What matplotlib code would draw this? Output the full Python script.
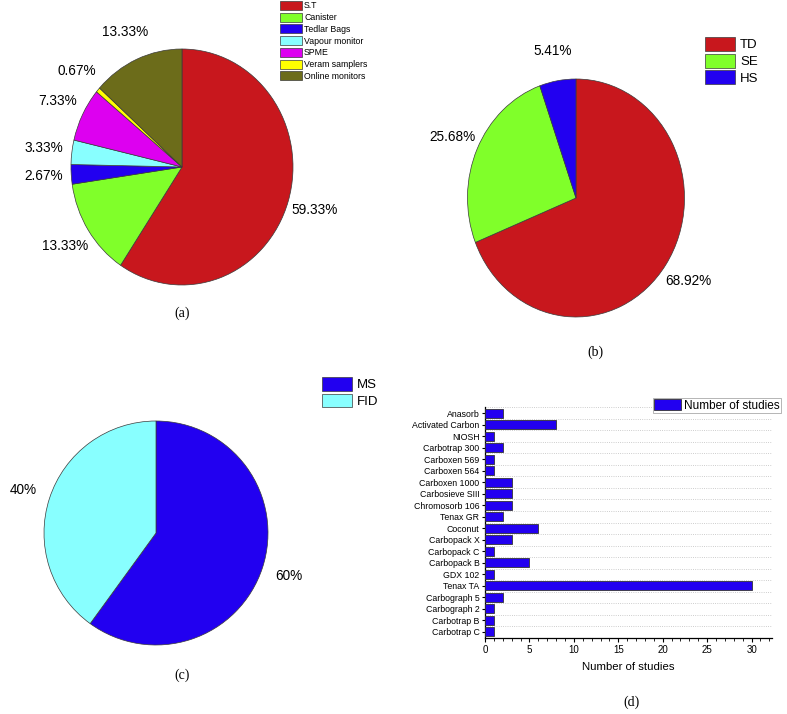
import matplotlib
matplotlib.use("Agg")
import matplotlib.pyplot as plt
from matplotlib.ticker import MultipleLocator

plt.rcParams['font.family'] = ['Liberation Sans', 'DejaVu Sans']

# (a) sampling methods
sampling_labels = ['S.T', 'Canister', 'Tedlar Bags', 'Vapour monitor', 'SPME',
                   'Veram samplers', 'Online monitors']
sampling_pct = [59.33, 13.33, 2.67, 3.33, 7.33, 0.67, 13.33]
sampling_colors = ['#c8171d', '#80ff2a', '#2200f0', '#88ffff', '#dd00f0',
                   '#ffff00', '#6c6c1a']

# (b) extraction
extract_labels = ['TD', 'SE', 'HS']
extract_pct = [68.92, 25.68, 5.41]
extract_colors = ['#c8171d', '#80ff2a', '#2200f0']

# (c) detectors
detector_labels = ['MS', 'FID']
detector_pct = [60, 40]
detector_colors = ['#2200f0', '#88ffff']

# (d) sorbents, top to bottom
sorbents = ['Anasorb', 'Activated Carbon', 'NIOSH', 'Carbotrap 300', 'Carboxen 569',
            'Carboxen 564', 'Carboxen 1000', 'Carbosieve SIII', 'Chromosorb 106',
            'Tenax GR', 'Coconut', 'Carbopack X', 'Carbopack C', 'Carbopack B',
            'GDX 102', 'Tenax TA', 'Carbograph 5', 'Carbograph 2', 'Carbotrap B',
            'Carbotrap C']
studies = [2, 8, 1, 2, 1, 1, 3, 3, 3, 2, 6, 3, 1, 5, 1, 30, 2, 1, 1, 1]

W, H = 787, 714
fig = plt.figure(figsize=(W / 100, H / 100), dpi=100)


def px_box(left, top, width, height):
    return [left / W, 1 - (top + height) / H, width / W, height / H]


def draw_pie(cx, cy, rx, ry, values, colors, fmt):
    ax = fig.add_axes(px_box(cx - rx, cy - ry, 2 * rx, 2 * ry))
    wedges, _, autotexts = ax.pie(values, colors=colors, startangle=90,
                                  counterclock=False, autopct='%.1f',
                                  pctdistance=1.25,
                                  wedgeprops=dict(edgecolor='#3a3a3a', linewidth=0.5),
                                  textprops=dict(fontsize=9.8))
    for t, v in zip(autotexts, values):
        t.set_text(fmt.format(v))
    ax.set_aspect('auto')
    ax.set_xlim(-1, 1)
    ax.set_ylim(-1, 1)
    return wedges


def fig_legend(handles, labels, x, y, fs, hl, hh, ls, tp):
    leg = fig.legend(handles, labels, loc='upper left',
                     bbox_to_anchor=(x / W, 1 - y / H), bbox_transform=fig.transFigure,
                     frameon=False, fontsize=fs, handlelength=hl, handleheight=hh,
                     labelspacing=ls, handletextpad=tp, borderpad=0, borderaxespad=0)
    return leg


w_a = draw_pie(182, 167, 111, 118, sampling_pct, sampling_colors, '{:.2f}%')
fig_legend(w_a, sampling_labels, 280, 1, 6.3, 2.5, 1.2, 0.26, 0.25)

w_b = draw_pie(576, 198, 108.5, 119, extract_pct, extract_colors, '{:.2f}%')
fig_legend(w_b, extract_labels, 705, 37, 9.5, 2.27, 1.26, 0.17, 0.38)

w_c = draw_pie(156, 533, 112, 112, detector_pct, detector_colors, '{:.0f}%')
fig_legend(w_c, detector_labels, 322, 377, 9.5, 2.3, 1.24, 0.17, 0.38)

# (d) bar chart
ax = fig.add_axes(px_box(485, 407.25, 287, 230.5))
ax.barh(range(len(sorbents)), studies, height=0.78, color='#2200f0',
        edgecolor='#333333', linewidth=0.6, label='Number of studies', zorder=3)
ax.set_yticks(range(len(sorbents)))
ax.set_yticklabels(sorbents, fontsize=6.3)
ax.set_ylim(len(sorbents) - 0.5, -0.5)
ax.set_xlim(0, 32.3)
ax.xaxis.set_major_locator(MultipleLocator(5))
ax.xaxis.set_minor_locator(MultipleLocator(1))
ax.yaxis.set_minor_locator(MultipleLocator(1, offset=0.5))
ax.grid(True, which='minor', axis='y', linestyle=':', color='#bdbdbd', linewidth=0.6)
ax.tick_params(axis='x', labelsize=7, length=3, width=0.8, pad=2)
ax.tick_params(axis='x', which='minor', length=1.8, width=0.6)
ax.tick_params(axis='y', which='major', length=2.5, width=0.8, pad=1.5)
ax.tick_params(axis='y', which='minor', length=0)
for s in ['top', 'right']:
    ax.spines[s].set_visible(False)
for s in ['left', 'bottom']:
    ax.spines[s].set_linewidth(0.9)
ax.set_xlabel('Number of studies', fontsize=8.2, labelpad=5)
leg = ax.legend(loc='upper left', bbox_to_anchor=(653 / W, 1 - 398 / H),
                bbox_transform=fig.transFigure, fontsize=8.5, handlelength=2.3,
                handleheight=1.05, handletextpad=0.2, borderpad=0.1, borderaxespad=0,
                fancybox=False, framealpha=1, edgecolor='#999999')
leg.get_frame().set_linewidth(0.5)

# captions
cap = dict(ha='center', va='center', fontsize=10, family='Liberation Serif')
fig.text(182 / W, 1 - 313 / H, '(a)', **cap)
fig.text(595 / W, 1 - 352 / H, '(b)', **cap)
fig.text(182 / W, 1 - 675 / H, '(c)', **cap)
fig.text(632 / W, 1 - 702 / H, '(d)', **cap)

fig.savefig('out.png', dpi=100)
